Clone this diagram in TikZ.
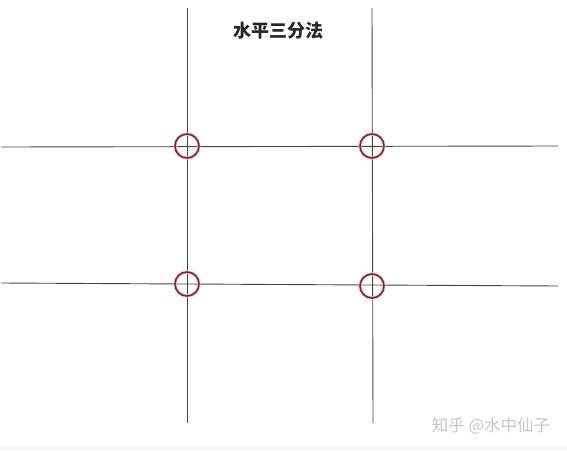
\documentclass[tikz,border=0pt]{standalone}
\usepackage{fontspec}
\newfontfamily\cjk{Noto Sans CJK SC}
\usetikzlibrary{positioning}
\definecolor{ringred}{RGB}{125,40,45}
\definecolor{ringglow}{RGB}{245,200,200}
\definecolor{linegray}{RGB}{70,70,70}
\tikzset{
  gridline/.style={draw=linegray, line width=0.9pt},
  hotspot/.style={circle, draw=ringred, line width=1.6pt, minimum size=24pt, inner sep=0pt},
  glow/.style={circle, draw=ringglow, line width=3.2pt, minimum size=24pt, inner sep=0pt},
}

\begin{document}
\begin{tikzpicture}[x=1pt,y=-1pt]
    \useasboundingbox (0,0) rectangle (567,450);
    \fill[white] (0,0) rectangle (567,450);
    \fill[black!4] (0,447) rectangle (567,450);

    % Grid ends
    \coordinate (lefttop) at (187,8);
    \coordinate (leftbot) at (187,423);
    \coordinate (righttop) at (372,8);
    \coordinate (rightbot) at (373,423);
    \coordinate (upperl) at (1,147);
    \coordinate (upperr) at (558,146);
    \coordinate (lowerl) at (1,283);
    \coordinate (lowerr) at (558,286);

    % Grid lines
    \draw[gridline] (lefttop) -- (leftbot);
    \draw[gridline] (righttop) -- (rightbot);
    \draw[gridline] (upperl) -- (upperr);
    \draw[gridline] (lowerl) -- (lowerr);

    % Power points
    \foreach \name/\x/\y in {ul/187/146, ur/372/146, ll/187/284, lr/372/286} {
        \node[glow] at (\x,\y) {};
        \node[hotspot] (\name) at (\x,\y) {};
    }

    % Title
    \node[font=\cjk\bfseries\fontsize{18}{18}\selectfont, text=black!85] (title) at (278,31) {水平三分法};

    % Watermark
    \node[font=\cjk\fontsize{16.5}{16.5}\selectfont, text=black!22] (mark) at (491,426) {知乎 @水中仙子};
\end{tikzpicture}
\end{document}
